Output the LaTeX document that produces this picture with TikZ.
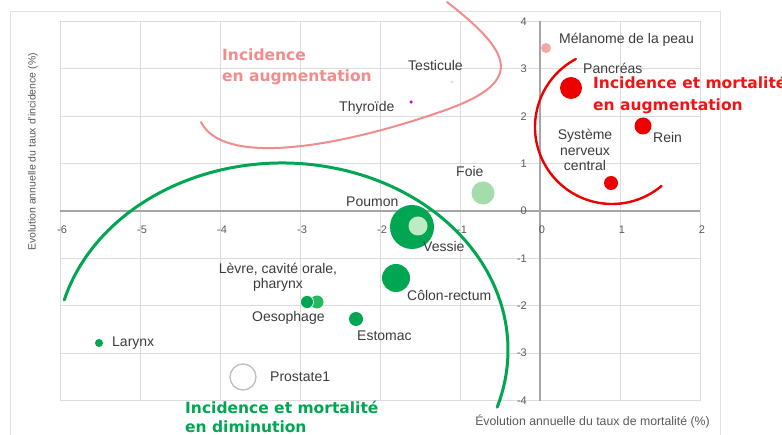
\documentclass[tikz,border=0pt]{standalone}
\usepackage{fontspec}
\setmainfont{Liberation Sans}
\newfontfamily\djv{DejaVu Sans}
\definecolor{gridc}{RGB}{220,220,220}
\definecolor{axisc}{RGB}{165,165,165}
\definecolor{framec}{RGB}{225,225,225}
\definecolor{txt}{RGB}{60,60,60}
\definecolor{ticktxt}{RGB}{90,90,90}
\definecolor{grn}{RGB}{0,166,81}
\definecolor{grnlight}{RGB}{40,184,96}
\definecolor{foiec}{RGB}{165,220,172}
\definecolor{vessiec}{RGB}{190,234,196}
\definecolor{redc}{RGB}{236,0,0}
\definecolor{redtxt}{RGB}{240,20,20}
\definecolor{pinkc}{RGB}{242,140,140}
\definecolor{melc}{RGB}{246,166,166}
\definecolor{testc}{RGB}{250,205,235}
\definecolor{thyc}{RGB}{215,0,215}
\definecolor{prosc}{RGB}{190,190,190}
\begin{document}
\begin{tikzpicture}[x=1pt,y=-1pt,
  lbl/.style={font=\fontsize{14}{16}\selectfont, text=txt, inner sep=0pt, anchor=base west},
  lblc/.style={lbl, anchor=base},
  tick/.style={font=\fontsize{11}{13}\selectfont, text=ticktxt, inner sep=0pt},
  ttl/.style={font=\djv\bfseries\fontsize{15.5}{20}\selectfont, inner sep=0pt, anchor=base west},
  bub/.style={circle, inner sep=0pt},
  gridline/.style={draw=gridc, line width=1pt},
  axisline/.style={draw=axisc, line width=1.6pt},
  curve/.style={line cap=round}
]
\useasboundingbox (0,0) rectangle (782,435);
\fill[white] (0,0) rectangle (782,435);
\draw[framec, line width=1pt] (10,12) rectangle (720,445);
% grid
\foreach \gx in {60,140,...,700} \draw[gridline] (\gx,21.4) -- (\gx,400.6);
\foreach \k in {0,...,8} \draw[gridline] (60,{21.4+47.4*\k}) -- (700,{21.4+47.4*\k});
% axes
\draw[axisline] (540,21.4) -- (540,400.6);
\draw[axisline] (60,211) -- (700,211);
% tick labels
\foreach \v [count=\i] in {-6,-5,-4,-3,-2,-1,0,1,2}
  \node[tick] (xt\i) at ({540+80*(\v)+2},230) {\v};
\foreach \v [count=\i] in {4,3,2,1,0,-1,-2,-3,-4}
  \node[tick, anchor=east] (yt\i) at (527,{211-47.4*(\v)}) {\v};
% axis titles
\node[font=\fontsize{10.5}{12}\selectfont, text=ticktxt, rotate=90, inner sep=0pt] (ytitle) at (33,152) {Evolution annuelle du taux d'incidence (\%)};
\node[font=\fontsize{12.3}{14}\selectfont, text=ticktxt, anchor=east, inner sep=0pt] (xtitle) at (710,421) {Évolution annuelle du taux de mortalité (\%)};
% bubbles
\node[bub, fill=melc, minimum size=10pt] (melanome) at (546,48) {};
\node[bub, fill=redc, minimum size=22pt] (pancreas) at (571,88) {};
\node[bub, fill=redc, minimum size=17pt] (rein) at (643,126) {};
\node[bub, fill=redc, minimum size=14pt] (snc) at (611,183) {};
\node[bub, fill=testc, minimum size=3pt] (testicule) at (452,82) {};
\node[bub, fill=thyc, minimum size=3.5pt] (thyroide) at (411,102) {};
\node[bub, fill=foiec, minimum size=23pt] (foie) at (483,193) {};
\node[bub, fill=grn, minimum size=44pt] (poumon) at (412,227) {};
\node[bub, fill=vessiec, minimum size=19pt] (vessie) at (418,226) {};
\node[bub, fill=grn, minimum size=28pt] (colon) at (396,278) {};
\node[bub, fill=grnlight, minimum size=13pt] (levre) at (317,302) {};
\node[bub, fill=grn, draw=white, line width=0.6pt, minimum size=13pt] (oesophage) at (307,302) {};
\node[bub, fill=grn, minimum size=14pt] (estomac) at (356,319) {};
\node[bub, fill=grn, minimum size=8pt] (larynx) at (99,343) {};
\node[bub, draw=prosc, fill=white, line width=1.3pt, minimum size=26pt] (prostate) at (243,377) {};
% curves
\coordinate (pkA) at (201,122);
\coordinate (pkB) at (440,112);
\coordinate (pkC) at (447,2);
\draw[pinkc, line width=2pt, curve] (pkA) .. controls (222,165) and (330,150) .. (pkB)
  .. controls (525,83) and (515,55) .. (pkC);
\draw[grn, line width=3pt, curve] (282,350) ++(195.5:226 and 187)
  arc[start angle=195.5, end angle=377.8, x radius=226, y radius=187];
\draw[redc, line width=2.4pt, curve] (612,127) ++(242:77)
  arc[start angle=242, end angle=50, radius=77];
% labels
\node[lbl] (lmel) at (559,44) {Mélanome de la peau};
\node[lbl] (lpanc) at (583,74) {Pancréas};
\node[lbl] (lrein) at (653,143) {Rein};
\node[lblc] (lsnc1) at (585,140) {Système};
\node[lblc] (lsnc2) at (585,156) {nerveux};
\node[lblc] (lsnc3) at (585,171) {central};
\node[lbl] (ltest) at (408,71) {Testicule};
\node[lbl] (lthy) at (339,112) {Thyroïde};
\node[lbl] (lfoie) at (456,177) {Foie};
\node[lbl] (lpoum) at (346,207) {Poumon};
\node[lbl] (lvess) at (423,252) {Vessie};
\node[lblc] (llev1) at (278,274) {Lèvre, cavité orale,};
\node[lblc] (llev2) at (278,289) {pharynx};
\node[lbl] (lcol) at (407,301) {Côlon-rectum};
\node[lbl] (loes) at (252,322) {Oesophage};
\node[lbl] (lest) at (357,341) {Estomac};
\node[lbl] (llar) at (112,347) {Larynx};
\node[lbl] (lpros) at (270,382) {Prostate1};
% titles
\node[ttl, text=pinkc] (pk1) at (222,61) {Incidence};
\node[ttl, text=pinkc] (pk2) at (222,82) {en augmentation};
\node[ttl, text=redtxt] (rd1) at (593,89) {Incidence et mortalité};
\node[ttl, text=redtxt] (rd2) at (593,111) {en augmentation};
\node[ttl, text=grn] (gr1) at (185,414) {Incidence et mortalité};
\node[ttl, text=grn] (gr2) at (185,433) {en diminution};
\end{tikzpicture}
\end{document}
